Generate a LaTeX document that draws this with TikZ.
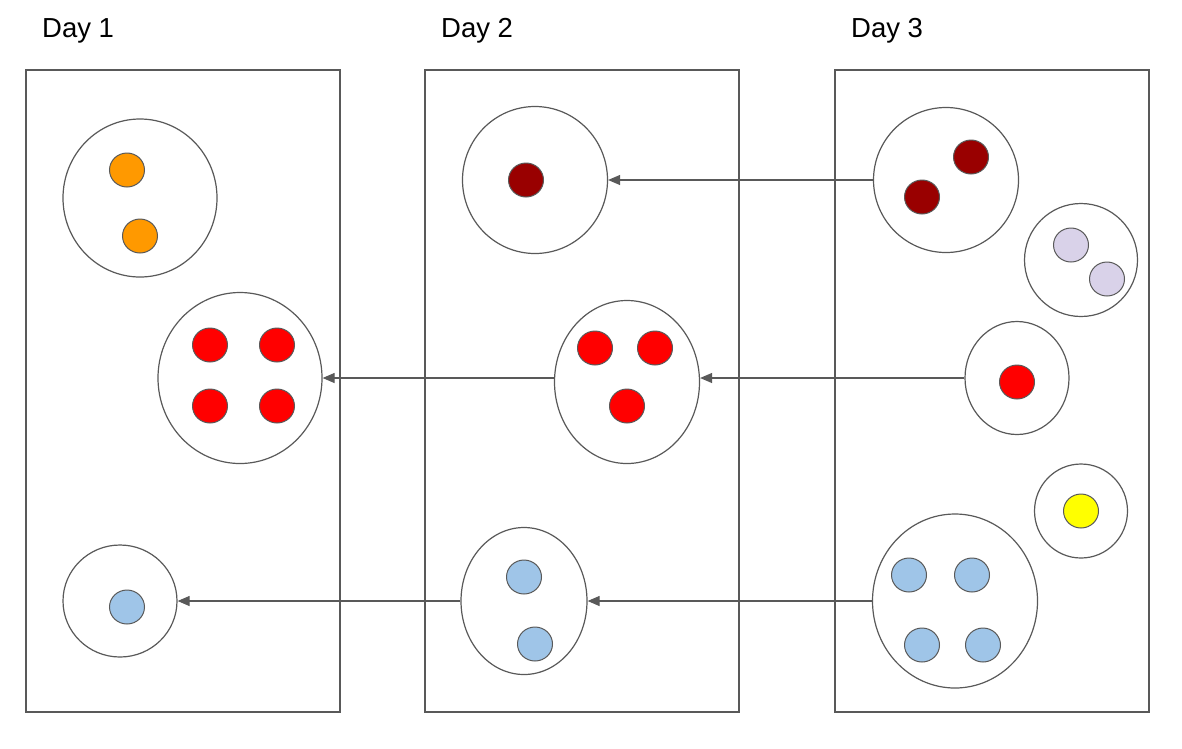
\documentclass[tikz,border=0pt]{standalone}
\usepackage{fontspec}
\setmainfont{Liberation Sans}
\usepackage{tikz}
\usetikzlibrary{arrows.meta,shapes.geometric,positioning}

\definecolor{linegray}{HTML}{595959}
\definecolor{dotorange}{HTML}{FF9900}
\definecolor{dotred}{HTML}{FF0000}
\definecolor{dotdark}{HTML}{990000}
\definecolor{dotblue}{HTML}{9FC5E8}
\definecolor{dotlav}{HTML}{D9D2E9}
\definecolor{dotyellow}{HTML}{FFFF00}

\begin{document}
\begin{tikzpicture}[x=1pt,y=-1pt,
    daybox/.style={draw=linegray,line width=1.4pt},
    daylabel/.style={anchor=base west,inner sep=0pt,font=\fontsize{27.5}{32}\selectfont},
    grp/.style={ellipse,draw=linegray,line width=1.2pt,fill=white,inner sep=0pt},
    dot/.style={ellipse,draw=linegray,line width=1pt,fill=#1,inner sep=0pt,minimum width=35pt,minimum height=34pt},
    link/.style={draw=linegray,line width=1.1pt,-{Triangle[length=12pt,width=10pt]}}]
    \useasboundingbox (0,0) rectangle (1182,748);
    % days
    \draw[daybox] (26,70) rectangle (340,712);
    \draw[daybox] (425,70) rectangle (739,712);
    \draw[daybox] (835,70) rectangle (1149,712);
    \node[daylabel] (day1) at (42,37) {Day 1};
    \node[daylabel] (day2) at (441,37) {Day 2};
    \node[daylabel] (day3) at (851,37) {Day 3};
    % day 1
    \node[grp,minimum width=154pt,minimum height=158pt] (a) at (140,198) {};
    \node[grp,minimum width=164pt,minimum height=171pt] (b) at (240,378) {};
    \node[grp,minimum width=114pt,minimum height=112pt] (c) at (120,601) {};
    \node[dot=dotorange] (a1) at (127,170) {};
    \node[dot=dotorange] (a2) at (140,236) {};
    \foreach \x/\y [count=\i] in {210/345,277/345,210/406,277/406}
        \node[dot=dotred] (b\i) at (\x,\y) {};
    \node[dot=dotblue] (c1) at (127,607) {};
    % day 2
    \node[grp,minimum width=145pt,minimum height=147pt] (d) at (535,180) {};
    \node[grp,minimum width=145pt,minimum height=163pt] (e) at (627,382) {};
    \node[grp,minimum width=126pt,minimum height=147pt] (f) at (524,601) {};
    \node[dot=dotdark] (d1) at (526,180) {};
    \foreach \x/\y [count=\i] in {595/348,655/348,627/406}
        \node[dot=dotred] (e\i) at (\x,\y) {};
    \node[dot=dotblue] (f1) at (524,577) {};
    \node[dot=dotblue] (f2) at (535,644) {};
    % day 3
    \node[grp,minimum width=145pt,minimum height=145pt] (g) at (946,180) {};
    \node[grp,minimum width=113pt,minimum height=113pt] (h) at (1081,260) {};
    \node[grp,minimum width=104pt,minimum height=113pt] (i) at (1017,378) {};
    \node[grp,minimum width=93pt,minimum height=94pt] (j) at (1081,511) {};
    \node[grp,minimum width=165pt,minimum height=174pt] (k) at (955,601) {};
    \node[dot=dotdark] (g1) at (971,157) {};
    \node[dot=dotdark] (g2) at (922,197) {};
    \node[dot=dotlav] (h1) at (1071,245) {};
    \node[dot=dotlav] (h2) at (1107,279) {};
    \node[dot=dotred] (i1) at (1017,382) {};
    \node[dot=dotyellow] (j1) at (1081,511) {};
    \foreach \x/\y [count=\i] in {909/575,972/575,922/645,983/645}
        \node[dot=dotblue] (k\i) at (\x,\y) {};
    % links
    \path[link] (g.west) -- (d.east);
    \path[link] (i.west) -- (i.west -| e.east);
    \path[link] (b.east -| e.west) -- (b.east);
    \path[link] (k.west) -- (f.east);
    \path[link] (f.west) -- (c.east);
\end{tikzpicture}
\end{document}
